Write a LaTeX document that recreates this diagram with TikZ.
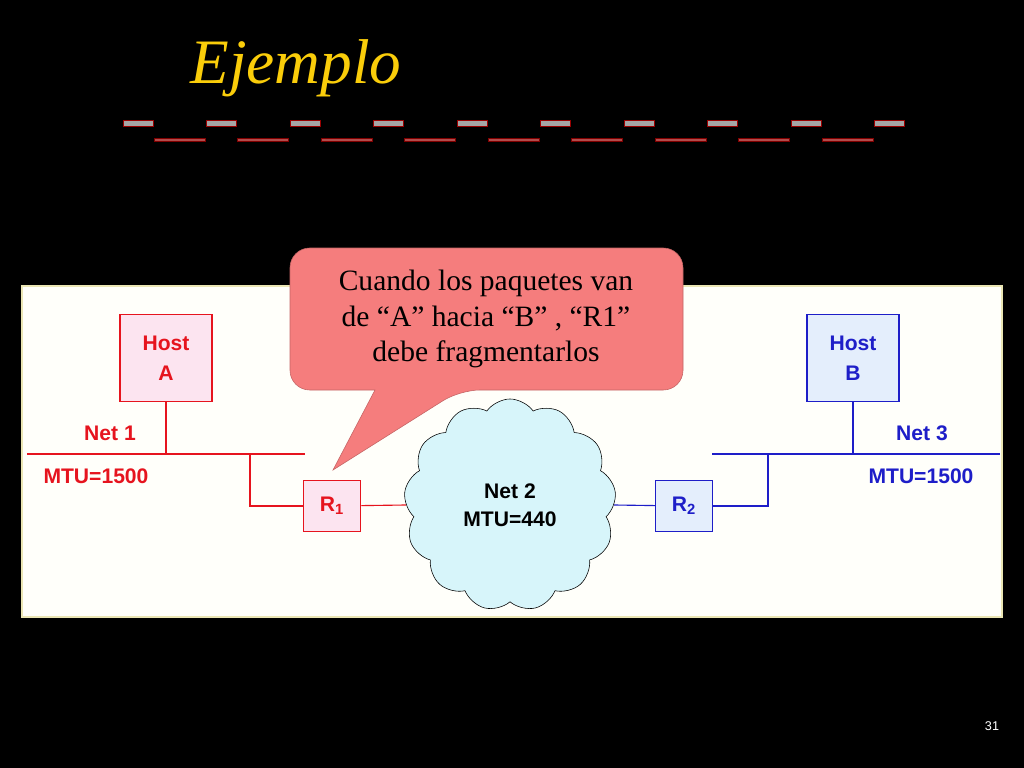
\documentclass[tikz,border=0pt]{standalone}
\usepackage{fontspec}
\setmainfont{Liberation Serif}
\newfontfamily\arialfont{Liberation Sans}
\usetikzlibrary{shapes.symbols}
\definecolor{netred}{RGB}{230,20,30}
\definecolor{netblue}{RGB}{30,30,200}
\definecolor{pinkfill}{RGB}{252,228,240}
\definecolor{bluefill}{RGB}{228,238,252}
\definecolor{cloudfill}{RGB}{215,245,250}
\definecolor{calloutfill}{RGB}{245,125,125}
\definecolor{titleyellow}{RGB}{250,205,10}
\definecolor{panelfill}{RGB}{255,255,250}
\definecolor{panelborder}{RGB}{235,230,180}
\tikzset{
  hostbox/.style={draw, line width=1.2pt, minimum width=2.3cm, minimum height=2.17cm, align=center, font=\arialfont\bfseries\fontsize{15}{21}\selectfont},
  routerbox/.style={draw, line width=1.2pt, minimum width=1.42cm, minimum height=1.27cm, font=\arialfont\bfseries\fontsize{15}{18}\selectfont},
  netlabel/.style={font=\arialfont\bfseries\fontsize{15}{18}\selectfont},
}
\begin{document}
\begin{tikzpicture}[x=0.025cm,y=-0.025cm]
        \useasboundingbox[fill=black] (0,0) rectangle (1024,768);

        % title and its dashes
        \node (title) at (296,68) {\color{titleyellow}\itshape\fontsize{45}{54}\selectfont Ejemplo};
        \foreach \i in {0,...,9} {
            \draw[draw=red!60!black, fill=gray!70] (123+\i*83.5,120) rectangle ++(30,6);
        }
        \foreach \i in {0,...,8} {
            \draw[draw=red!50!black, fill=red!40!gray] (154+\i*83.5,138) rectangle ++(51,3);
        }

        % panel
        \draw[panelborder, line width=2pt, fill=panelfill] (22,286) rectangle (1002,617);

        % left side
        \node[hostbox, netred, fill=pinkfill] (hostA) at (166,358) {Host\\A};
        \node[routerbox, netred, fill=pinkfill] (rone) at (332,506) {R\textsubscript{1}};
        \coordinate (netoneL) at (27,454);
        \coordinate (netoneR) at (305,454);
        \coordinate (tapA) at (166,454);
        \coordinate (tapR) at (250,454);
        \draw[netred, thick] (netoneL) -- (netoneR);
        \draw[netred, thick] (hostA) -- (tapA);
        \draw[netred, thick] (tapR) |- (rone);
        \node[netlabel, netred] (netone) at (110,433) {Net 1};
        \node[netlabel, netred] (mtuone) at (96,476) {MTU=1500};

        % right side
        \node[hostbox, netblue, fill=bluefill] (hostB) at (853,358) {Host\\B};
        \node[routerbox, netblue, fill=bluefill] (rtwo) at (684,506) {R\textsubscript{2}};
        \coordinate (netthreeL) at (712,454);
        \coordinate (netthreeR) at (1000,454);
        \coordinate (tapB) at (853,454);
        \coordinate (tapS) at (768,454);
        \draw[netblue, thick] (netthreeL) -- (netthreeR);
        \draw[netblue, thick] (hostB) -- (tapB);
        \draw[netblue, thick] (tapS) |- (rtwo);
        \node[netlabel, netblue] (netthree) at (922,433) {Net 3};
        \node[netlabel, netblue] (mtuthree) at (921,476) {MTU=1500};

        % net 2 cloud
        \node[cloud, cloud puffs=13, cloud puff arc=110, aspect=1, draw, fill=cloudfill,
              minimum width=5.3cm, minimum height=5.3cm, netlabel, align=center] (cloud) at (510,505) {Net 2\\[2pt]MTU=440};
        \draw[netred, thick] (rone) -- (cloud.west);
        \draw[netblue, thick] (cloud.east) -- (rtwo);

        % callout
        \coordinate (tip) at (333,470);
        \draw[draw=calloutfill!80!black, fill=calloutfill, rounded corners=14pt]
            (290,248) -- (683,248) -- (683,390) -- (460,390)
            [sharp corners] -- (tip) -- (375,390)
            [rounded corners=14pt] -- (290,390) -- cycle;
        \node[align=center, font=\fontsize{21}{25.5}\selectfont] (note) at (486,319)
              {Cuando los paquetes van\\de “A” hacia “B” , “R1”\\debe fragmentarlos};

        \node[white, font=\arialfont\fontsize{9}{11}\selectfont] (page) at (992,726) {31};
\end{tikzpicture}
\end{document}
